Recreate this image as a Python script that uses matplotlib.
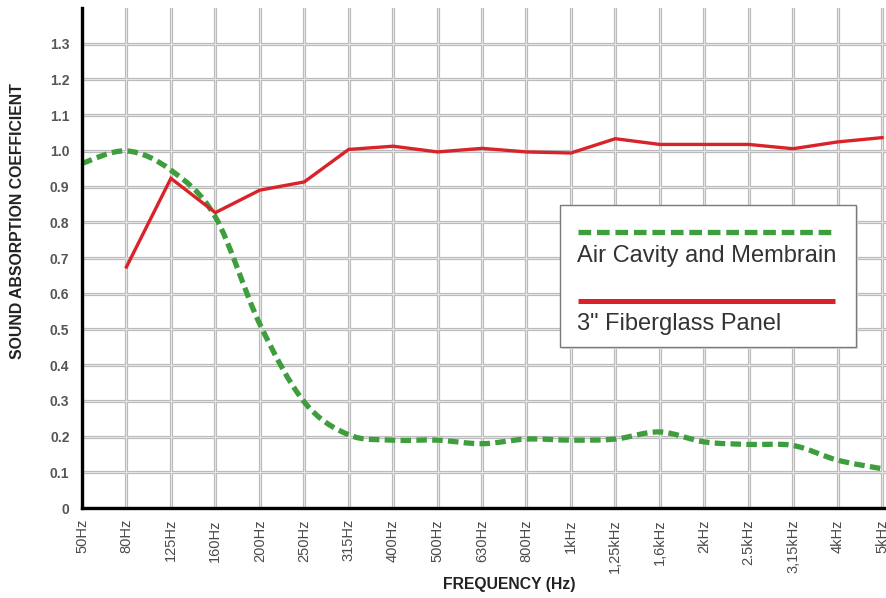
import matplotlib
matplotlib.use("Agg")
import matplotlib.pyplot as plt
from matplotlib.path import Path
from matplotlib.patches import PathPatch, Rectangle
from matplotlib.lines import Line2D
import numpy as np

plt.rcParams['font.family'] = ['Liberation Sans', 'DejaVu Sans']

# Third-octave band centre frequencies
bands = ["50Hz", "80Hz", "125Hz", "160Hz", "200Hz", "250Hz", "315Hz", "400Hz",
         "500Hz", "630Hz", "800Hz", "1kHz", "1,25kHz", "1,6kHz", "2kHz",
         "2.5kHz", "3,15kHz", "4kHz", "5kHz"]

# Absorption coefficients per band
air_cavity = [0.965, 1.00, 0.946, 0.815, 0.515, 0.297, 0.205, 0.19, 0.19, 0.18,
              0.193, 0.19, 0.193, 0.213, 0.185, 0.178, 0.175, 0.134, 0.11]
fiberglass = [None, 0.675, 0.923, 0.827, 0.89, 0.913, 1.004, 1.013, 0.997, 1.007,
              0.997, 0.994, 1.034, 1.018, 1.018, 1.018, 1.006, 1.025, 1.037]

y_ticks = [0, 0.1, 0.2, 0.3, 0.4, 0.5, 0.6, 0.7, 0.8, 0.9, 1.0, 1.1, 1.2, 1.3]
y_tick_labels = ["0", "0.1", "0.2", "0.3", "0.4", "0.5", "0.6", "0.7", "0.8",
                 "0.9", "1.0", "1.1", "1.2", "1.3"]

series_labels = ["Air Cavity and Membrain", "3\" Fiberglass Panel"]

GREEN = "#3e9e3e"
RED = "#d8232a"
W, H = 886, 598

fig = plt.figure(figsize=(W / 100, H / 100), dpi=100)
fig.patch.set_facecolor("white")
ax = fig.add_axes([82 / W, 90 / H, (W - 82) / W, 500 / H])

x = np.arange(len(bands))
ax.set_xlim(0, 18.09)
ax.set_ylim(0, 1.4)

# Grid: light double-edged lines
for xv in x:
    ax.axvline(xv, color="#b9b9b9", lw=2.3, zorder=1)
    ax.axvline(xv, color="#e4e4e4", lw=0.8, zorder=1.1)
for yv in y_ticks:
    ax.axhline(yv, color="#b9b9b9", lw=2.3, zorder=1)
    ax.axhline(yv, color="#e4e4e4", lw=0.8, zorder=1.1)

# Smooth Catmull-Rom curve for the air cavity series
pts = np.column_stack([x.astype(float), np.array(air_cavity, dtype=float)])
ext = np.vstack([pts[0], pts, pts[-1]])
verts = [tuple(pts[0])]
codes = [Path.MOVETO]
for i in range(len(pts) - 1):
    p0, p1, p2, p3 = ext[i], ext[i + 1], ext[i + 2], ext[i + 3]
    c1 = p1 + (p2 - p0) / 6.0
    c2 = p2 - (p3 - p1) / 6.0
    verts += [tuple(c1), tuple(c2), tuple(p2)]
    codes += [Path.CURVE4] * 3
green_patch = PathPatch(Path(verts, codes), fill=False, edgecolor=GREEN,
                        lw=3.8, linestyle=(0, (2.0, 1.0)), capstyle="butt",
                        zorder=3, clip_on=True)
ax.add_patch(green_patch)

# Fiberglass panel series
fx = [xi for xi, v in zip(x, fiberglass) if v is not None]
fy = [v for v in fiberglass if v is not None]
ax.plot(fx, fy, color=RED, lw=2.4, zorder=4, solid_joinstyle="miter")

# Axes styling
for side in ("top", "right"):
    ax.spines[side].set_visible(False)
for side in ("left", "bottom"):
    ax.spines[side].set_color("black")
    ax.spines[side].set_linewidth(2.4)
    ax.spines[side].set_zorder(5)

ax.set_xticks(x)
ax.set_xticklabels(bands, rotation=90, fontsize=10.5, color="#4a4a4a")
ax.set_yticks(y_ticks)
ax.set_yticklabels(y_tick_labels, fontsize=10, color="#555555", fontweight="bold")
ax.tick_params(axis="both", length=0)
ax.tick_params(axis="x", pad=8)
ax.tick_params(axis="y", pad=9)

fig.text(18 / W, 1 - 221 / H, "SOUND ABSORPTION COEFFICIENT", rotation=90,
         ha="center", va="center", fontsize=11.4, fontweight="bold", color="#222222")
fig.text(509 / W, 1 - 585 / H, "FREQUENCY (Hz)", ha="center", va="center",
         fontsize=11.3, fontweight="bold", color="#222222")

# Legend box: sample line above each label
def fx_(px):
    return px / W


def fy_(py):
    return 1 - py / H


fig.patches.append(Rectangle((fx_(562), fy_(349)), (858 - 562) / W, (349 - 207) / H,
                             transform=fig.transFigure, facecolor="#dddddd",
                             edgecolor="none", zorder=6))
fig.patches.append(Rectangle((fx_(560), fy_(347)), (856 - 560) / W, (347 - 205) / H,
                             transform=fig.transFigure, facecolor="white",
                             edgecolor="#7a7a7a", lw=1.0, zorder=7))
fig.lines.append(Line2D([fx_(578), fx_(834)], [fy_(231.5), fy_(231.5)],
                        transform=fig.transFigure, color=GREEN, lw=3.8,
                        linestyle=(0, (2.4, 1.1)), zorder=8))
fig.lines.append(Line2D([fx_(578), fx_(835)], [fy_(301), fy_(301)],
                        transform=fig.transFigure, color=RED, lw=3.6,
                        solid_capstyle="butt", zorder=8))
fig.text(fx_(577), fy_(256), series_labels[0], ha="left", va="center",
         fontsize=17, color="#333333", zorder=9)
fig.text(fx_(577), fy_(324), series_labels[1], ha="left", va="center",
         fontsize=17, color="#333333", zorder=9)

fig.savefig("out.png", dpi=100, facecolor="white")
